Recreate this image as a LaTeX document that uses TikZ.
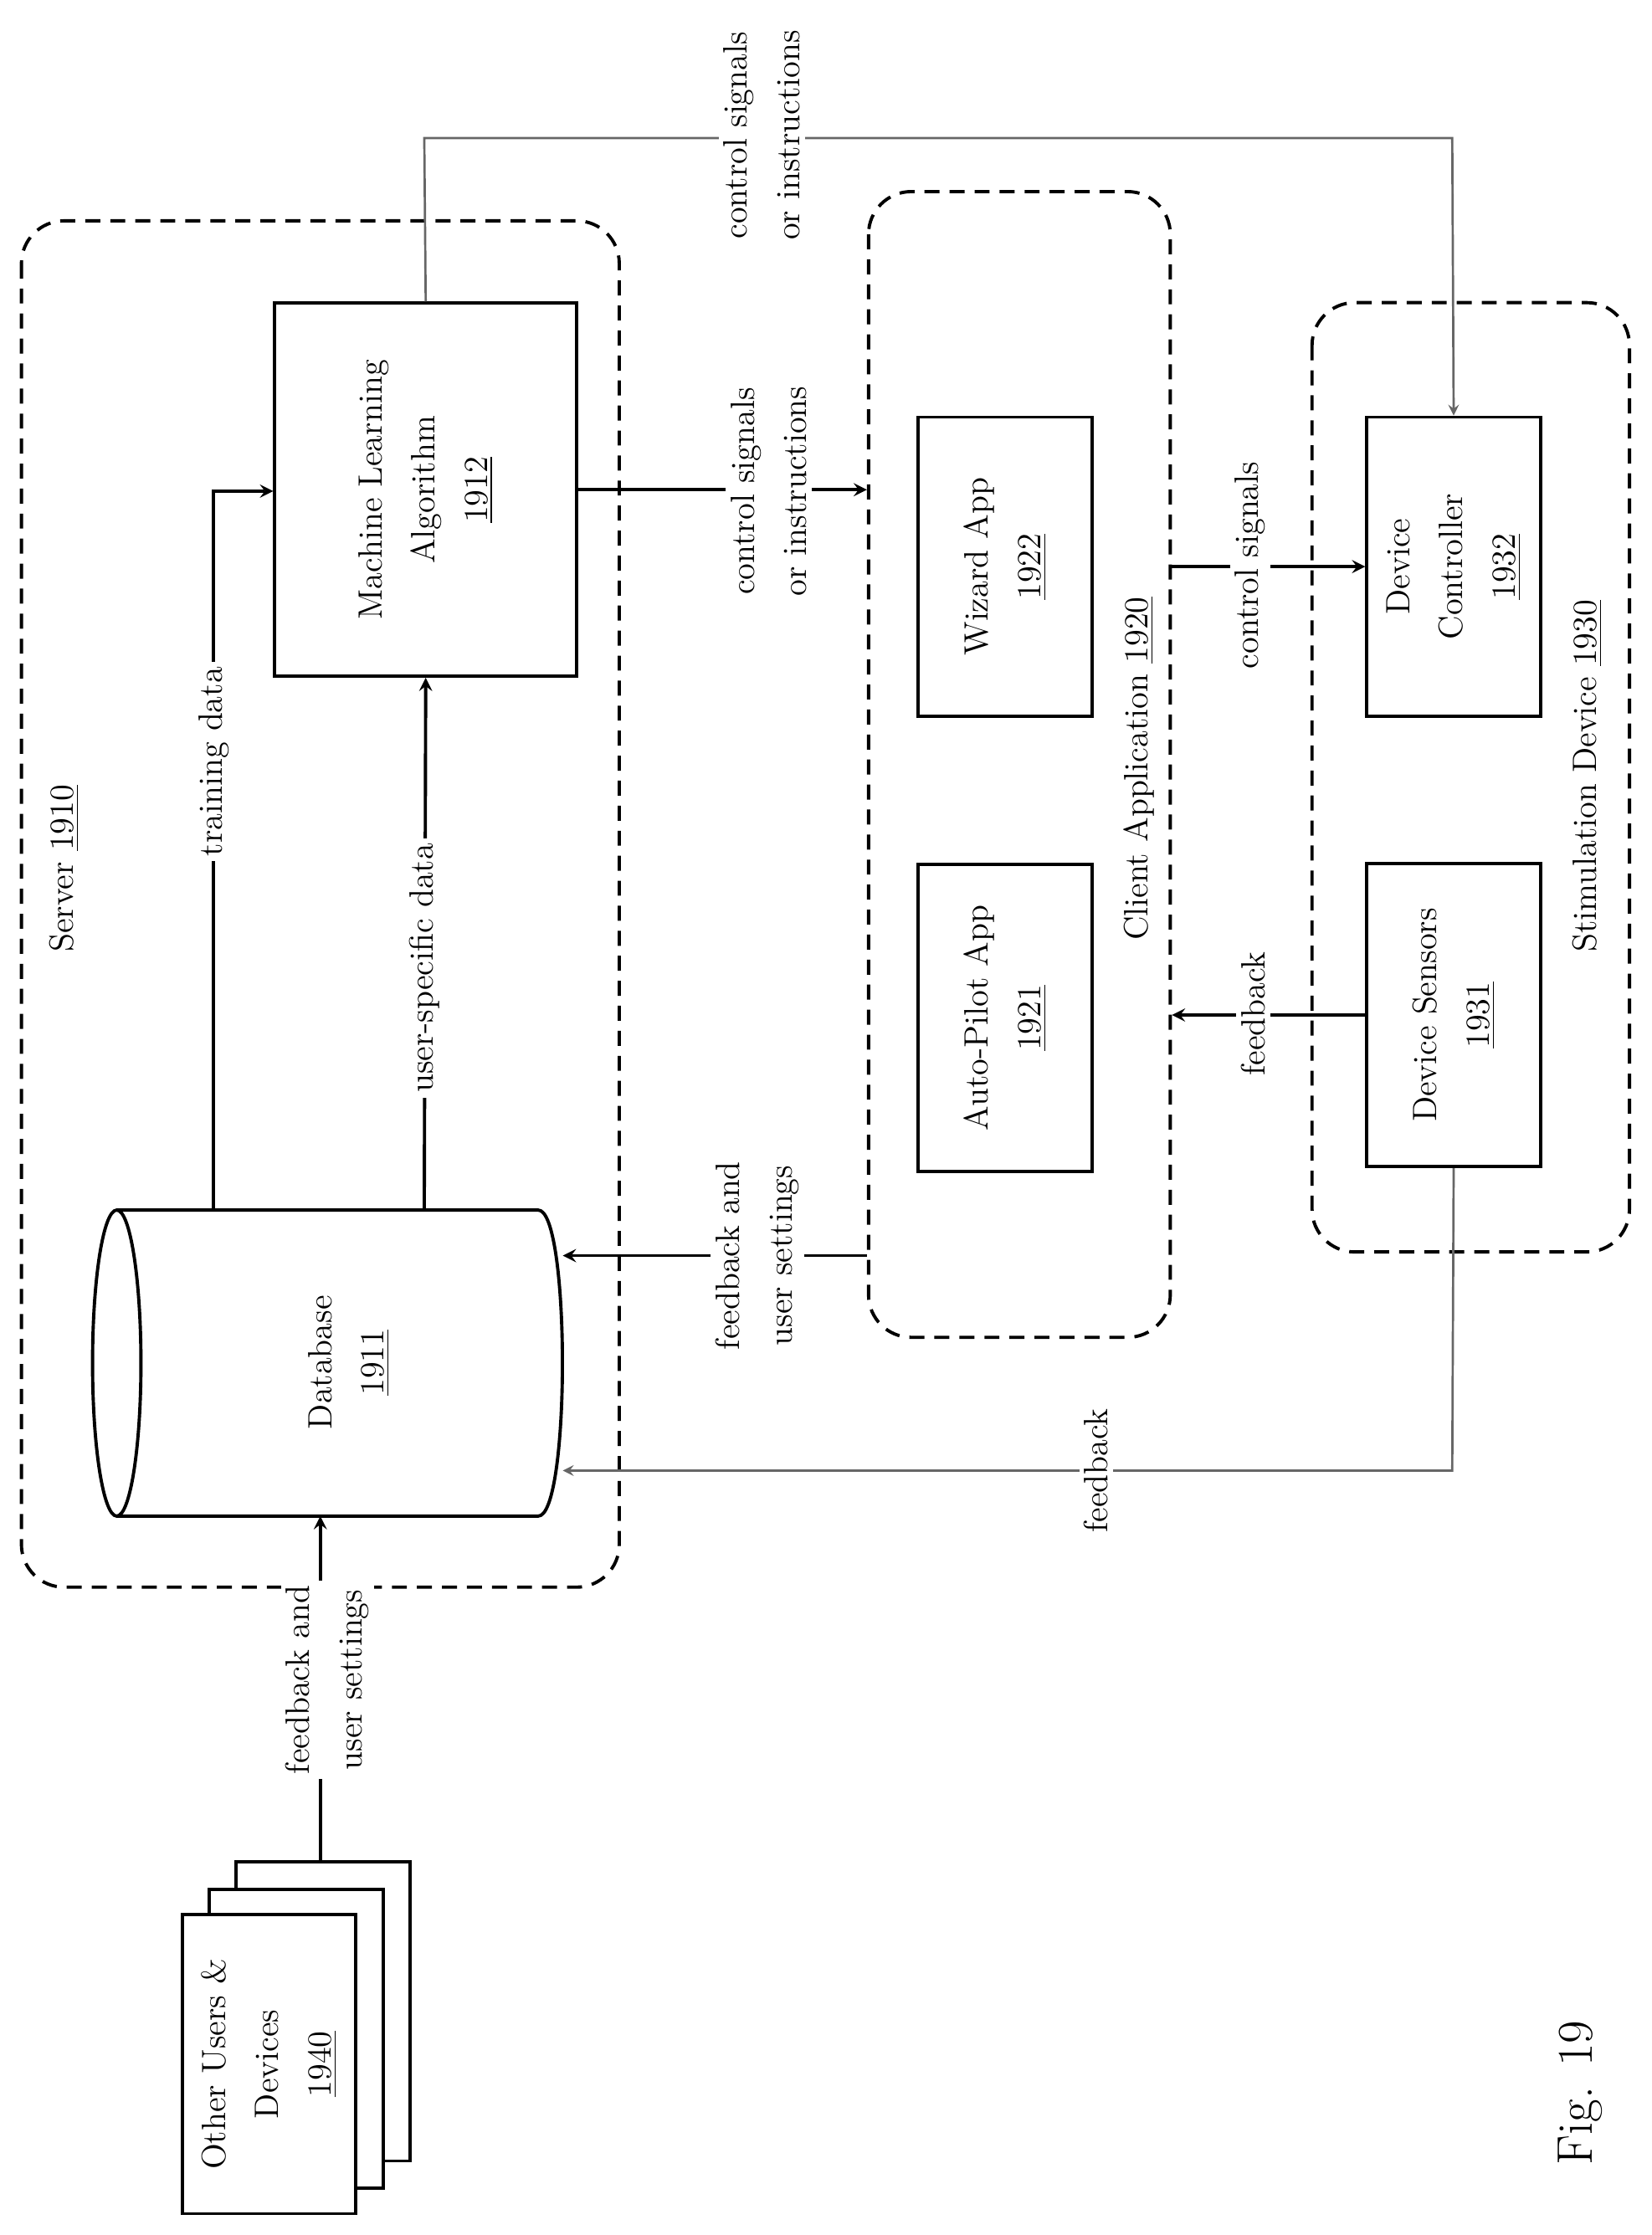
\documentclass[tikz,border=0pt]{standalone}
\usetikzlibrary{arrows, positioning}
\tikzstyle{container} = [draw, line width=1.3pt, dash pattern=on 6pt off 4pt, rectangle, rounded corners=0.6cm, rotate=90]
\tikzstyle{component} = [draw, rectangle, line width=1.3pt, rotate=90, align=center]
\tikzstyle{arrow} = [line width=1.3pt,->,>=stealth]
\tikzstyle{thinarrow} = [line width=0.9pt, draw=gray!80!black, ->, >=stealth]
\tikzstyle{lbl} = [rotate=90, align=center, fill=white, inner sep=2pt]
\begin{document}
\begin{tikzpicture}[x=0.02cm, y=-0.02cm, font=\fontsize{13.5}{21}\selectfont]
    \useasboundingbox (0,0) rectangle (1160,1570);
            % Containers
                  \node (Server) [container, minimum width=19.2cm, minimum height=8.4cm] at (225,635) {};
                  \node (Client) [container, minimum width=16.1cm, minimum height=4.24cm] at (716,537) {};
                  \node (Stim) [container, minimum width=13.34cm, minimum height=4.46cm] at (1033,546) {};
                  \node [rotate=90] at (45,610) {Server \underline{1910}};
                  \node [rotate=90] at (800,540) {Client Application \underline{1920}};
                  \node [rotate=90] at (1115,545) {Stimulation Device \underline{1930}};

                  % Components
                  \node (ML) [component, minimum width=5.24cm, minimum height=4.24cm] at (299,344) {Machine Learning\\Algorithm\\\underline{1912}};
                  \node (Wizard) [component, minimum width=4.2cm, minimum height=2.44cm] at (706,398) {Wizard App\\\underline{1922}};
                  \node (AutoPilot) [component, minimum width=4.32cm, minimum height=2.44cm] at (706,715) {Auto-Pilot App\\\underline{1921}};
                  \node (Controller) [component, minimum width=4.2cm, minimum height=2.44cm] at (1021,398) {Device\\Controller\\\underline{1932}};
                  \node (Sensors) [component, minimum width=4.26cm, minimum height=2.44cm] at (1021,713) {Device Sensors\\\underline{1931}};

                  % Other users (stacked)
                  \node (Other3) [component, fill=white, minimum width=4.2cm, minimum height=2.44cm] at (227,1413) {};
                  \node (Other2) [component, fill=white, minimum width=4.2cm, minimum height=2.44cm] at (208,1432) {};
                  \node (Other) [component, fill=white, minimum width=4.2cm, minimum height=2.44cm] at (189,1450) {Other Users \&\\Devices\\\underline{1940}};

                  % Database
                  \draw [line width=1.3pt] (82,850) -- (378,850) .. controls (400.7,850) and (400.7,1065) .. (378,1065) -- (82,1065);
                  \draw [line width=1.3pt] (82,957.5) ellipse [x radius=17, y radius=107.5];
                  \node (DB) [minimum width=6.6cm, minimum height=4.3cm] at (230,957) {};
                  \node [rotate=90, align=center] at (245,957) {Database\\\underline{1911}};

            % Arrows
            \draw [arrow] (150,850) -- (150,345) -- (150,345 -| ML.north);
            \node [lbl] at (150,535) {training data};
            \draw [arrow] (298,850) -- (ML.west);
            \node [lbl] at (298,680) {user-specific data};
            \draw [arrow] (ML.south) -- (ML.south -| Client.north);
            \node [lbl] at (540,345) {control signals\\or instructions};
            \draw [thinarrow] (ML.east) -- (298,97) -- (1020,97) -- (Controller.east);
            \node [lbl] at (535,95) {control signals\\or instructions};
            \draw [arrow] (Client.south |- Controller.north) -- (Controller.north);
            \node [lbl] at (878,397) {control signals};
            \draw [arrow] (Sensors.north) -- (Sensors.north -| Client.south);
            \node [lbl] at (880,712) {feedback};
            \draw [arrow] (Client.north |- 0,882) -- (DB.east |- 0,882);
            \node [lbl] at (532,882) {feedback and\\user settings};
            \draw [thinarrow] (Sensors.west) -- (1020,1033) -- (DB.east |- 0,1033);
            \node [lbl] at (770,1033) {feedback};
            \draw [arrow] (Other3.east -| 225,0) -- (225,1065);
            \node [lbl] at (230,1180) {feedback and\\user settings};

            \node [rotate=90, font=\fontsize{20}{24}\selectfont] at (1110,1470) {Fig. 19};
        \end{tikzpicture}
\end{document}
